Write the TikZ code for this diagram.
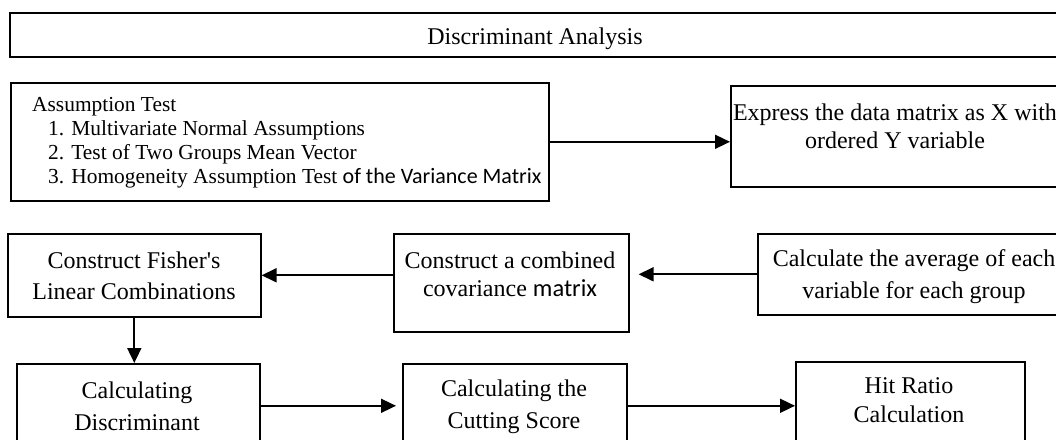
\documentclass[tikz,border=0pt]{standalone}
\usepackage{fontspec}
\setmainfont{Liberation Serif}
\newfontfamily\calfont{Carlito}
\usetikzlibrary{arrows.meta}
\newcommand{\boxtext}[2]{\parbox[t]{400pt}{\centering\fontsize{24}{#1}\selectfont #2}}
\begin{document}
\begin{tikzpicture}[x=1pt,y=-1pt,
  box/.style={draw, line width=1.6pt, inner sep=0pt, anchor=north west},
  lbl/.style={anchor=base, inner sep=0pt},
  arr/.style={line width=1.7pt, -{Triangle[length=15pt,width=14pt]}},
  small/.style={anchor=base west, inner sep=0pt, font=\fontsize{21.4}{24}\selectfont}]
\useasboundingbox (0,0) rectangle (1056,439);
\clip (0,0) rectangle (1056,439);
\fill[white] (0,0) rectangle (1056,439);
% boxes
\node[box, line width=2pt, minimum width=1053pt, minimum height=44pt] (title) at (9,12) {};
\node[box, minimum width=538pt, minimum height=118pt] (assume) at (10,82) {};
\node[box, minimum width=334pt, minimum height=101pt] (express) at (730,85) {};
\node[box, minimum width=253pt, minimum height=83pt] (fisher) at (7,233) {};
\node[box, minimum width=235pt, minimum height=98pt] (cov) at (393,233) {};
\node[box, minimum width=314pt, minimum height=81pt] (avg) at (757,233) {};
\node[box, minimum width=243pt, minimum height=84pt] (disc) at (16,363) {};
\node[box, minimum width=224pt, minimum height=84pt] (cut) at (402,363) {};
\node[box, minimum width=229pt, minimum height=88pt] (hit) at (795,361) {};
% texts
\node[lbl] (titleT) at (535,44) {\boxtext{28}{Discriminant Analysis}};
\node[small] (assumeT) at (32,111) {Assumption Test};
\node[small] (assume1) at (48,135) {1. Multivariate Normal Assumptions};
\node[small] (assume2) at (48,159) {2. Test of Two Groups Mean Vector};
\node[small] (assume3) at (48,183) {3. Homogeneity Assumption Test {\calfont\fontsize{22}{24}\selectfont of the Variance Matrix}};
\node[lbl] (expressT) at (895,120) {\boxtext{28}{Express the data matrix as X with\\ordered Y variable}};
\node[lbl] (fisherT) at (134,268) {\boxtext{31}{Construct Fisher\textquotesingle s\\Linear Combinations}};
\node[lbl] (covT) at (510,268) {\boxtext{28}{Construct a combined\\covariance {\calfont\fontsize{24.5}{28}\selectfont matrix}}};
\node[lbl] (avgT) at (914,266) {\boxtext{32}{Calculate the average of each\\variable for each group}};
\node[lbl] (discT) at (137,398) {\boxtext{32}{Calculating\\Discriminant}};
\node[lbl] (cutT) at (514,396) {\boxtext{32}{Calculating the\\Cutting Score}};
\node[lbl] (hitT) at (909,393) {\boxtext{29}{Hit Ratio\\Calculation}};
% connectors
\draw[arr] (assume.east) -- (assume.east -| express.west);
\draw[arr, shorten >=9pt] (avg.west) -- (avg.west -| cov.east);
\draw[arr] (cov.west |- fisher.east) -- (fisher.east);
\draw[arr] (fisher.south) -- (fisher.south |- disc.north);
\draw[arr, shorten >=6pt] (disc.east) -- (cut.west);
\draw[arr] (cut.east) -- (hit.west);
\end{tikzpicture}
\end{document}
